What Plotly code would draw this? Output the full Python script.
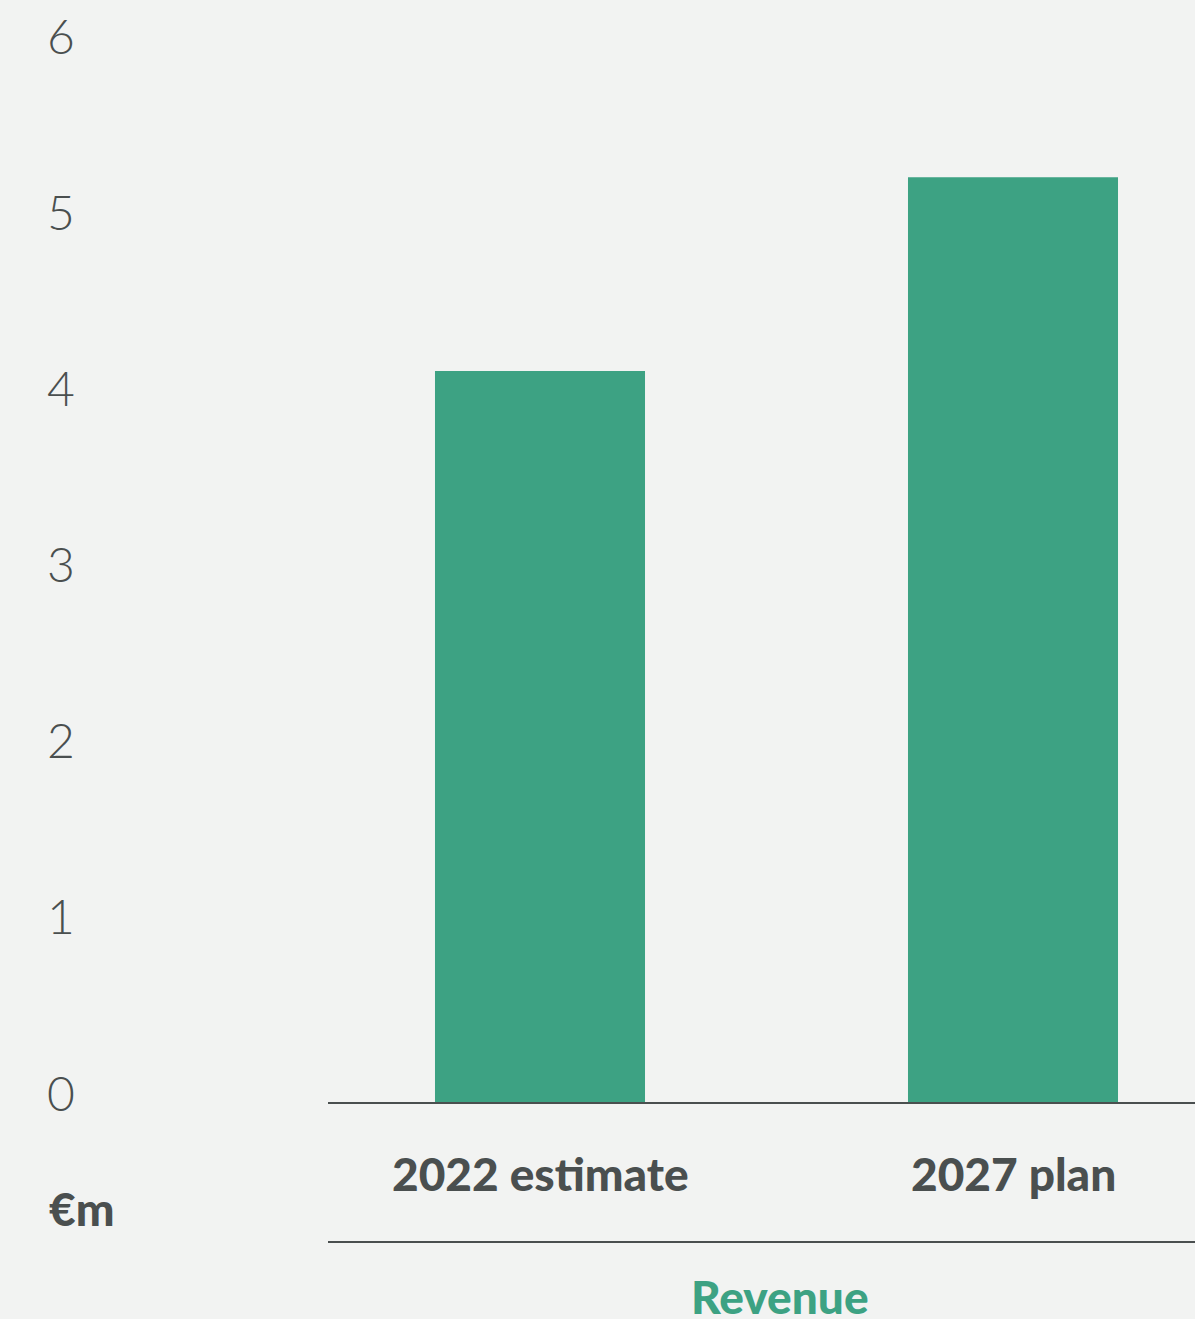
import plotly.graph_objects as go

categories = ["2022 estimate", "2027 plan"]
revenue = [4.15, 5.25]
y_ticks = [0, 1, 2, 3, 4, 5, 6]
y_tick_labels = ["0", "1", "2", "3", "4", "5", "6"]
unit_label = "€m"
group_label = "Revenue"

GREEN = "#3da283"
DARK = "#4a4f4f"
BG = "#f2f3f2"

W, H = 1195, 1319
L, R, T, B = 328, 0, 45, 217
plot_w = W - L - R
plot_h = H - T - B

fig = go.Figure()
fig.add_trace(go.Bar(
    x=[0, 1], y=revenue, width=0.444,
    marker=dict(color=GREEN, line=dict(width=0)),
    hoverinfo="skip",
))

def px_x(px):
    return (px - L) / plot_w

def px_y(py):
    return (H - B - py) / plot_h

annotations = []
for v, t in zip(y_ticks, y_tick_labels):
    annotations.append(dict(
        x=px_x(61), xref="paper", y=v, yref="y", yshift=10,
        text=t, showarrow=False, xanchor="center", yanchor="middle",
        font=dict(family="Lato", size=48, color=DARK, weight=300),
    ))
for i, c in enumerate(categories):
    annotations.append(dict(
        x=i, xref="x", y=px_y(1173), yref="paper",
        text=c, showarrow=False, xanchor="center", yanchor="middle",
        font=dict(family="Lato", size=46, color=DARK, weight=900),
    ))
annotations.append(dict(
    x=px_x(47), xref="paper", y=px_y(1208), yref="paper",
    text=unit_label, showarrow=False, xanchor="left", yanchor="middle",
    font=dict(family="Lato", size=46, color=DARK, weight=900),
))
annotations.append(dict(
    x=px_x(780), xref="paper", y=px_y(1296), yref="paper",
    text=group_label, showarrow=False, xanchor="center", yanchor="middle",
    font=dict(family="Lato", size=46, color=GREEN, weight=900),
))

fig.update_layout(
    width=W, height=H,
    margin=dict(l=L, r=R, t=T, b=B, pad=0),
    paper_bgcolor=BG, plot_bgcolor=BG,
    showlegend=False,
    xaxis=dict(range=[(L - 540) / 473, (W - 540) / 473], showticklabels=False,
               showgrid=False, zeroline=False, showline=True, linecolor=DARK,
               linewidth=2, ticks=""),
    yaxis=dict(range=[0, 6], showticklabels=False, showgrid=False,
               zeroline=False, showline=False, ticks=""),
    annotations=annotations,
    shapes=[dict(type="line", xref="paper", yref="paper",
                 x0=0, x1=1, y0=px_y(1242), y1=px_y(1242),
                 line=dict(color=DARK, width=2))],
)

fig.write_html("out.html")
